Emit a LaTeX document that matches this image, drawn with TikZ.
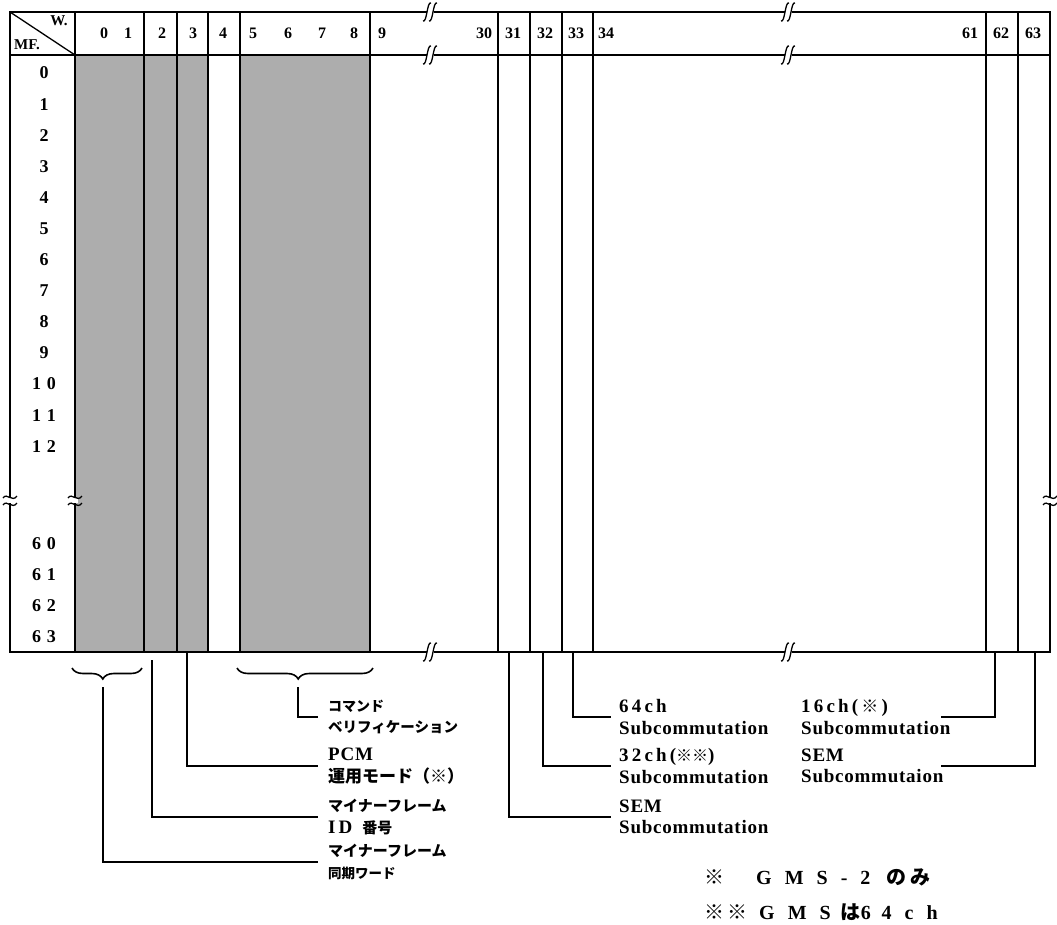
\documentclass[tikz,border=0pt]{standalone}
\usepackage{fontspec}
\setmainfont{Liberation Serif}
\newfontfamily\jp{Noto Sans CJK JP}
\newfontfamily\spcfont[LetterSpace=4]{Liberation Serif}
\usetikzlibrary{decorations.pathreplacing}
\newcommand\brkH[2]{%
 \begin{scope}[shift={(#1,#2)}]
 \fill[white] (-3.5,-2.5) rectangle (3.5,2.5);
 \draw[line width=1.3pt] (-7,9) .. controls (-5,10) and (-4,5) .. (-3,0) .. controls (-2,-5) and (-1,-10) .. (1,-9);
 \draw[line width=1.3pt] (-1,9) .. controls (1,10) and (2,5) .. (3,0) .. controls (4,-5) and (5,-10) .. (7,-9);
 \end{scope}}
\newcommand\brkV[2]{%
 \begin{scope}[shift={(#1,#2)}]
 \fill[white] (-2.5,-2) rectangle (2.5,3);
 \draw[line width=1.3pt] (-7,-2) .. controls (-3,-8) and (2,3) .. (7,-4);
 \draw[line width=1.3pt] (-7,5) .. controls (-3,-1) and (2,10) .. (7,3);
 \end{scope}}
\newcommand\jps[2]{{\jp\fontsize{#1}{21}\selectfont #2}}
\begin{document}
\begin{tikzpicture}[x=1pt,y=-1pt,
 frame/.style={line width=2.8pt},
 colline/.style={line width=1.8pt},
 lead/.style={line width=2pt},
 shadebox/.style={fill=black!32},
 brc/.style={line width=1.6pt, decorate, decoration={brace, mirror, amplitude=11pt}},
 hd/.style={font=\bfseries\fontsize{16}{16}\selectfont, inner sep=0pt},
 rw/.style={font=\bfseries\fontsize{18}{18}\selectfont, inner sep=0pt},
 lab/.style={anchor=west, align=left, inner ysep=0pt, font=\spcfont\bfseries\fontsize{19}{21.5}\selectfont},
 fn/.style={anchor=west, inner sep=0pt, font=\bfseries\fontsize{20}{20}\selectfont},
]
\useasboundingbox (0,0) rectangle (1057,924);
% shading
\fill[shadebox] (75,55) rectangle (208,652);
\fill[shadebox] (240,55) rectangle (370,652);
% frame and lines
\draw[frame] (10,12) rectangle (1050,652);
\draw[frame] (10,55) -- (1050,55);
\foreach \x in {144,177,208,240,370,498,530,562,593,986,1018} \draw[colline] (\x,12) -- (\x,652);
\draw[line width=2.2pt] (75,12) -- (75,652);
\draw[line width=1.3pt] (10,12) -- (75,55);
% breaks
\brkH{430}{12}\brkH{430}{55}\brkH{430}{652}
\brkH{788}{12}\brkH{788}{55}\brkH{788}{652}
\brkV{10}{500}\brkV{75}{500}\brkV{1050}{500}
% header
\node[font=\bfseries\fontsize{15}{15}\selectfont, inner sep=0pt] (w) at (59,21) {W.};
\node[font=\bfseries\fontsize{15}{15}\selectfont, inner sep=0pt] (mf) at (27,45) {MF.};
\node[hd] (h0) at (104,33) {0};
\node[hd] (h1) at (128,33) {1};
\node[hd] (h2) at (162,33) {2};
\node[hd] (h3) at (193,33) {3};
\node[hd] (h4) at (223,33) {4};
\node[hd] (h5) at (253,33) {5};
\node[hd] (h6) at (288,33) {6};
\node[hd] (h7) at (322,33) {7};
\node[hd] (h8) at (354,33) {8};
\node[hd] (h9) at (382,33) {9};
\node[hd] (h30) at (484,33) {30};
\node[hd] (h31) at (513,33) {31};
\node[hd] (h32) at (545,33) {32};
\node[hd] (h33) at (576,33) {33};
\node[hd] (h34) at (606,33) {34};
\node[hd] (h61) at (970,33) {61};
\node[hd] (h62) at (1001,33) {62};
\node[hd] (h63) at (1033,33) {63};
% rows
\foreach \i in {0,...,9} \node[rw] (r\i) at (44,{73+31.1*\i}) {\i};
\node[rw] (r10) at (44,{73+31.1*10}) {1\hspace{6pt}0};
\node[rw] (r11) at (44,{73+31.1*11}) {1\hspace{6pt}1};
\node[rw] (r12) at (44,{73+31.1*12}) {1\hspace{6pt}2};
\node[rw] (r60) at (44,544) {6\hspace{6pt}0};
\node[rw] (r61) at (44,575) {6\hspace{6pt}1};
\node[rw] (r62) at (44,606) {6\hspace{6pt}2};
\node[rw] (r63) at (44,637) {6\hspace{6pt}3};
% braces
\draw[brc, decoration={aspect=0.44}] (72,668) -- (142,668);
\draw[brc, decoration={aspect=0.45}] (237,668) -- (373,668);
% left leaders
\coordinate (sA) at (103,687);
\coordinate (sB) at (152,660);
\coordinate (sC) at (187,652);
\coordinate (sD) at (298,687);
\node[lab, inner xsep=10pt] (tD) at (318,717) {\jps{14}{コマンド}\\\jps{14.5}{ベリフィケーション}};
\node[lab, inner xsep=10pt] (tC) at (318,766) {PCM\\\jps{17}{運用モード（※）}};
\node[lab, inner xsep=10pt] (tB) at (318,817) {\jps{15}{マイナーフレーム}\\I\hspace{3pt}D\hspace{10pt}\jps{15}{番号}};
\node[lab, inner xsep=10pt] (tA) at (318,862) {\jps{15}{マイナーフレーム}\\\jps{13.5}{同期ワード}};
\draw[lead] (sD) |- (tD.west);
\draw[lead] (sC) |- (tC.west);
\draw[lead] (sB) |- (tB.west);
\draw[lead] (sA) |- (tA.west);
% right leaders
\coordinate (s31) at (509,652);
\coordinate (s32) at (543,652);
\coordinate (s33) at (573,652);
\coordinate (s62) at (995,652);
\coordinate (s63) at (1035,652);
\node[lab, inner xsep=8.5pt] (t33) at (610.5,717) {6\,4\,c\,h\\Subcommutation};
\node[lab, inner xsep=8.5pt] (t32) at (610.5,766) {3\,2\,c\,h\,(\jps{16}{※※})\\Subcommutation};
\node[lab, inner xsep=8.5pt] (t31) at (610.5,817) {SEM\\Subcommutation};
\draw[lead] (s33) |- (t33.west);
\draw[lead] (s32) |- (t32.west);
\draw[lead] (s31) |- (t31.west);
\node[lab, inner xsep=0pt] (t62) at (801,717) {1\,6\,c\,h\,(\,\jps{17}{※}\,)\\Subcommutation};
\node[lab, inner xsep=0pt] (t63) at (801,766) {SEM\\Subcommutaion};
\coordinate (e62) at (941,717);
\coordinate (e63) at (941,766);
\draw[lead] (s62) |- (e62);
\draw[lead] (s63) |- (e63);
% footnotes
\node[fn] (fn1) at (704,877) {{\jp ※}\hspace{32pt}G\hspace{13pt}M\hspace{13pt}S\hspace{13pt}-\hspace{13pt}2\hspace{16pt}{\jp の}\hspace{4pt}{\jp み}};
\node[fn] (fn2) at (704,912) {{\jp ※\hspace{3pt}※}\hspace{12pt}G\hspace{13pt}M\hspace{13pt}S\hspace{10pt}{\jp は}6\hspace{11pt}4\hspace{13pt}c\hspace{13pt}h};
\end{tikzpicture}
\end{document}
